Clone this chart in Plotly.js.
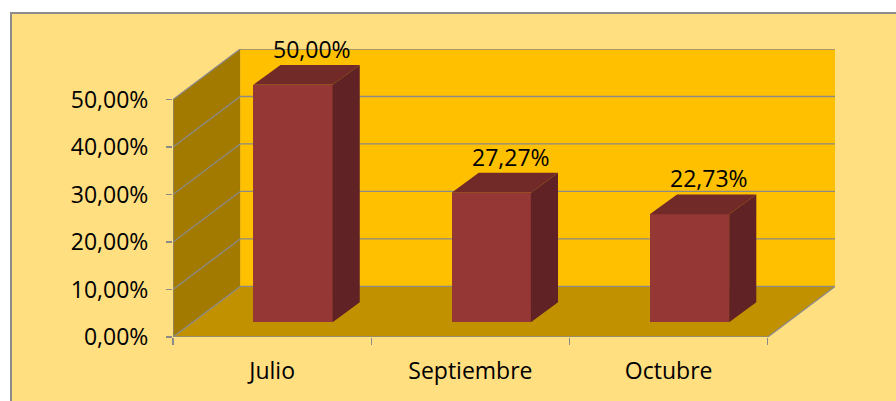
<!DOCTYPE html>
<html>
<head>
<meta charset="utf-8">
<script src="https://cdn.plot.ly/plotly-3.0.1.min.js"></script>
<style>
  html, body { margin: 0; padding: 0; background: #ffffff; width: 896px; height: 401px; overflow: hidden; }
  #frame { position: absolute; left: 10px; top: 12px; width: 886px; height: 389px; box-sizing: border-box;
           border-left: 2px solid #8c8c8c; border-top: 2px solid #8c8c8c; background: #FFDF80; }
  #chart { width: 884px; height: 387px; }
</style>
</head>
<body>
<div id="frame"><div id="chart"></div></div>
<script>
// ---- data ----
const categorias = ['Julio', 'Septiembre', 'Octubre'];
const valores = [0.5, 0.2727, 0.2273];
const etiquetas = ['50,00%', '27,27%', '22,73%'];
const ticksY = [0, 0.1, 0.2, 0.3, 0.4, 0.5];
const ticksYTexto = ['0,00%', '10,00%', '20,00%', '30,00%', '40,00%', '50,00%'];

// ---- 3D look geometry (axis units) ----
const DX = 0.339, DY = 0.1065;     // depth of the box (back wall offset)
const BX = 0.137, BY = 0.042;      // depth of each bar
const BASE = 0.031;                // bar sits in the middle of the floor
const BW = 0.4, BOFF = -0.095;     // bar width / offset
const XMAX = 2.5 + DX, YMAX = 0.5 + DY;
const grid = '#8a8a8a';

const shapes = [];
const poly = (pts, fill, layer) => shapes.push({
  type: 'path', xref: 'x', yref: 'y', layer: layer,
  path: 'M' + pts.map(p => p[0] + ',' + p[1]).join(' L') + ' Z',
  fillcolor: fill, line: { width: 0 }
});
const seg = (x0, y0, x1, y1, layer) => shapes.push({
  type: 'line', xref: 'x', yref: 'y', layer: layer, x0, y0, x1, y1,
  line: { color: grid, width: 1.3 }
});

// back wall
poly([[-0.5 + DX, DY], [XMAX, DY], [XMAX, YMAX], [-0.5 + DX, YMAX]], '#FFC000', 'below');
// side wall
poly([[-0.5, 0], [-0.5, 0.5], [-0.5 + DX, YMAX], [-0.5 + DX, DY]], '#A27A00', 'below');
// floor
poly([[-0.5, 0], [2.5, 0], [XMAX, DY], [-0.5 + DX, DY]], '#C19100', 'below');
// gridlines
ticksY.forEach(t => {
  seg(-0.5 + DX, t + DY, XMAX, t + DY, 'below');
  seg(-0.5, t, -0.5 + DX, t + DY, 'below');
});
// axis lines
seg(-0.5, 0, -0.5, 0.5, 'below');
seg(-0.5, 0, 2.5, 0, 'below');
seg(2.5, 0, XMAX, DY, 'below');

// bar tops and sides
const annotations = [];
valores.forEach((v, i) => {
  const x0 = i + BOFF, x1 = x0 + BW, top = BASE + v;
  poly([[x0, top], [x1, top], [x1 + BX, top + BY], [x0 + BX, top + BY]], '#722A29', 'above');
  poly([[x1, BASE], [x1, top], [x1 + BX, top + BY], [x1 + BX, BASE + BY]], '#602224', 'above');
  annotations.push({
    x: x0 + BW / 2 + BX / 2 + 0.03, y: top + BY, xref: 'x', yref: 'y',
    text: etiquetas[i], showarrow: false, yanchor: 'middle', yshift: 16,
    font: { family: 'Open Sans', size: 23, color: '#000000' }
  });
});

const trace = {
  type: 'bar',
  x: categorias.map((c, i) => i),
  y: valores,
  base: BASE,
  width: BW,
  offset: BOFF,
  marker: { color: '#953735', line: { width: 0 } },
  hoverinfo: 'skip',
  showlegend: false
};

const layout = {
  width: 884, height: 387,
  margin: { l: 161, r: 61, t: 35, b: 64 },
  paper_bgcolor: 'rgba(0,0,0,0)',
  plot_bgcolor: 'rgba(0,0,0,0)',
  font: { family: 'Open Sans', size: 23, color: '#000000' },
  showlegend: false,
  bargap: 0,
  xaxis: {
    range: [-0.5, XMAX], tickmode: 'array',
    tickvals: categorias.map((c, i) => i), ticktext: categorias,
    ticks: '', showgrid: false, zeroline: false, showline: false,
    ticklabelstandoff: 18,
    minor: { tickmode: 'array', tickvals: [-0.5, 0.5, 1.5, 2.5], ticks: 'outside', ticklen: 7, tickcolor: grid, tickwidth: 1.3, showgrid: false },
    fixedrange: true
  },
  yaxis: {
    range: [0, YMAX], tickmode: 'array', tickvals: ticksY, ticktext: ticksYTexto,
    ticks: 'outside', ticklen: 6, tickcolor: grid, tickwidth: 1.3,
    showgrid: false, zeroline: false, showline: false,
    ticklabelstandoff: 13,
    fixedrange: true
  },
  shapes: shapes,
  annotations: annotations
};

Plotly.newPlot('chart', [trace], layout, { displayModeBar: false, staticPlot: true });
</script>
</body>
</html>
